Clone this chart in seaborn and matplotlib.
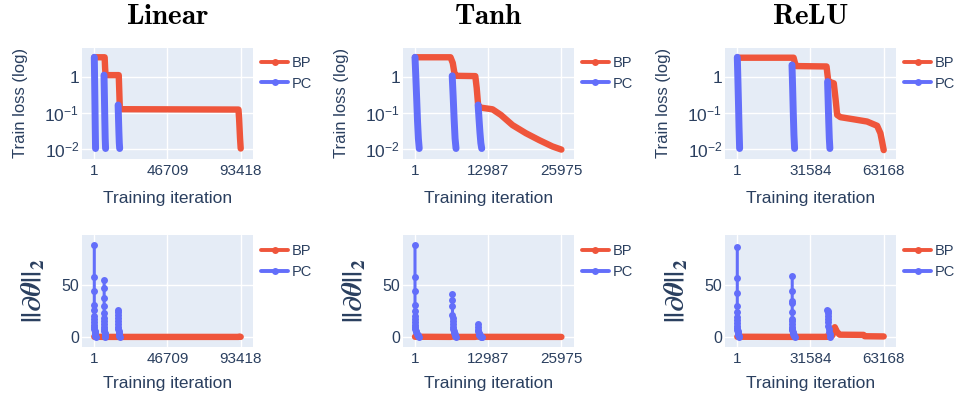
import numpy as np
import pandas as pd
import matplotlib
matplotlib.use("Agg")
import matplotlib.pyplot as plt
import seaborn as sns
from matplotlib.lines import Line2D
from matplotlib.ticker import NullLocator, FixedLocator, FixedFormatter

# ------------------------------------------------------------------ data
activations = ["Linear", "Tanh", "ReLU"]
series_names = ["BP", "PC"]
xtick_values = [[1, 46709, 93418], [1, 12987, 25975], [1, 31584, 63168]]
loss_ticks = [0.01, 0.1, 1]
loss_tick_labels = ["$10^{-2}$", "$10^{-1}$", "1"]
grad_ticks = [0, 50]
grad_tick_labels = ["0", "50"]

# ---- Linear
lin_bp_loss_x = [1, 6600, 6900, 7200, 15600, 15950, 16300, 92000, 92400, 93000, 93418]
lin_bp_loss_y = [3.6, 3.6, 1.8, 1.15, 1.15, 0.4, 0.13, 0.127, 0.07, 0.02, 0.0105]
lin_pc_loss_x = [[1, 200, 400, 600, 800],
                 [6200, 6450, 6700, 6950, 7200],
                 [15200, 15450, 15700, 15950, 16200]]
lin_pc_loss_y = [[3.6, 0.9, 0.2, 0.04, 0.0105],
                 [1.15, 0.3, 0.07, 0.02, 0.0105],
                 [0.17, 0.07, 0.03, 0.015, 0.0105]]
lin_bp_grad_x = [1, 6600, 6900, 7200, 15600, 15950, 16300, 92000, 92700, 93418]
lin_bp_grad_y = [0.2, 0.05, 0.6, 0.05, 0.05, 0.5, 0.05, 0.05, 0.4, 0.1]
lin_pc_grad_x = [[1, 2, 3, 4, 5, 6, 8, 12, 20, 40, 80, 150, 250, 350, 450, 600, 800],
                 [6300, 6301, 6302, 6303, 6304, 6306, 6310, 6320, 6350, 6400, 6500, 6650,
                  6800, 6950, 7100],
                 [15300, 15301, 15303, 15306, 15310, 15320, 15350, 15400, 15500, 15650,
                  15800, 15950, 16100]]
lin_pc_grad_y = [[88.7, 58.3, 43.9, 31.1, 25.6, 19.9, 17, 14.5, 12, 10, 8, 6, 4.5, 3, 2, 1, 0.1],
                 [55.1, 47, 37.5, 29.5, 23, 18, 15, 12.5, 10, 8, 6, 4, 2.5, 1.2, 0.1],
                 [26.3, 24, 21, 18, 15, 12.5, 10, 8, 6, 4, 2.5, 1.2, 0.1]]

# ---- Tanh
tanh_bp_loss_x = [1, 6300, 6700, 7000, 7300, 10700, 10950, 11200, 11500, 13750, 15240,
                  17300, 19670, 22030, 24380, 25975]
tanh_bp_loss_y = [3.6, 3.6, 2.5, 1.3, 1.1, 1.08, 0.5, 0.17, 0.145, 0.129, 0.09,
                  0.047, 0.028, 0.018, 0.012, 0.0098]
tanh_pc_loss_x = [[1, 150, 300, 450, 600, 750],
                  [6600, 6770, 6940, 7110, 7280],
                  [11200, 11360, 11520, 11680, 11840]]
tanh_pc_loss_y = [[3.6, 1.0, 0.25, 0.06, 0.02, 0.0105],
                  [1.1, 0.3, 0.07, 0.02, 0.0105],
                  [0.17, 0.07, 0.03, 0.015, 0.0105]]
tanh_bp_grad_x = [1, 6300, 6800, 7300, 10700, 11000, 11500, 25975]
tanh_bp_grad_y = [0.2, 0.05, 0.5, 0.05, 0.05, 0.6, 0.1, 0.05]
tanh_pc_grad_x = [[1, 2, 3, 4, 5, 6, 8, 12, 20, 40, 80, 150, 250, 350, 450, 600, 750],
                  [6650, 6651, 6652, 6653, 6655, 6660, 6670, 6700, 6750, 6850, 6950, 7050,
                   7150, 7250],
                  [11250, 11252, 11255, 11260, 11280, 11320, 11400, 11500, 11600, 11700, 11800]]
tanh_pc_grad_y = [[88.7, 58.3, 43.9, 31.1, 24.7, 19.9, 17, 14.5, 12, 10, 8, 6, 4.5, 3, 2, 1, 0.1],
                  [41.7, 35.9, 30.1, 21.5, 18, 15, 12.5, 10, 8, 6, 4, 2.5, 1.2, 0.1],
                  [12.8, 10, 7, 5.5, 4, 3, 2.2, 1.5, 0.9, 0.4, 0.1]]

# ---- ReLU
relu_bp_loss_x = [1, 24300, 24800, 25400, 38500, 38900, 39300, 40500, 41630, 42400, 43090,
                  44510, 50250, 56000, 60330, 61750, 62500, 63168]
relu_bp_loss_y = [3.5, 3.5, 2.6, 2.05, 2.0, 1.2, 0.76, 0.72, 0.68, 0.25, 0.09,
                  0.078, 0.068, 0.059, 0.045, 0.028, 0.016, 0.0095]
relu_pc_loss_x = [[1, 250, 500, 750, 1000],
                  [23600, 23880, 24160, 24440, 24720],
                  [38950, 39200, 39450, 39700, 39950]]
relu_pc_loss_y = [[3.6, 0.9, 0.2, 0.04, 0.0105],
                  [2.2, 0.5, 0.1, 0.025, 0.0105],
                  [0.76, 0.22, 0.06, 0.02, 0.0105]]
relu_bp_grad_x = [1, 24300, 24800, 25400, 38500, 39000, 39500, 41000, 42060, 43000, 44200,
                  54500, 55000, 63168]
relu_bp_grad_y = [0.2, 0.05, 0.6, 0.1, 0.1, 0.8, 0.5, 1.5, 9.4, 5, 2.2, 2.0, 0.7, 0.5]
relu_pc_grad_x = [[1, 2, 3, 4, 5, 6, 8, 12, 20, 40, 80, 150, 250, 350, 450, 600, 800],
                  [23700, 23701, 23702, 23703, 23704, 23705, 23707, 23712, 23720, 23740,
                   23800, 23900, 24000, 24150, 24300, 24500, 24700],
                  [38900, 38920, 38950, 39000, 39100, 39200, 39350, 39500, 39650, 39800, 39920]]
relu_pc_grad_y = [[86.6, 56.9, 42.2, 30.3, 24, 18.8, 16, 13.5, 11, 9, 7, 5.5, 4, 3, 2, 1, 0.1],
                  [59, 44.4, 34.4, 32.5, 24, 17.8, 15, 12.5, 10, 8, 6.5, 5, 3.5, 2.5, 1.5, 0.7, 0.1],
                  [26.5, 25, 23, 20, 17, 14, 11, 8, 5, 2.5, 0.1]]

panels = [
    (lin_bp_loss_x, lin_bp_loss_y, lin_pc_loss_x, lin_pc_loss_y,
     lin_bp_grad_x, lin_bp_grad_y, lin_pc_grad_x, lin_pc_grad_y),
    (tanh_bp_loss_x, tanh_bp_loss_y, tanh_pc_loss_x, tanh_pc_loss_y,
     tanh_bp_grad_x, tanh_bp_grad_y, tanh_pc_grad_x, tanh_pc_grad_y),
    (relu_bp_loss_x, relu_bp_loss_y, relu_pc_loss_x, relu_pc_loss_y,
     relu_bp_grad_x, relu_bp_grad_y, relu_pc_grad_x, relu_pc_grad_y),
]

# ------------------------------------------------------------------ style
BP_C = "#EF553B"
PC_C = "#636EFA"
TXT = "#2a3f5f"
BG = "#E5ECF6"

sns.set_theme(style="darkgrid", rc={"axes.facecolor": BG, "grid.color": "white"})
plt.rcParams["font.family"] = ["Liberation Sans", "DejaVu Sans"]
plt.rcParams["mathtext.fontset"] = "custom"
plt.rcParams["mathtext.rm"] = "Liberation Sans"
plt.rcParams["mathtext.it"] = "Liberation Sans:italic"
plt.rcParams["mathtext.bf"] = "Liberation Sans:bold"
plt.rcParams["axes.axisbelow"] = True

fig = plt.figure(figsize=(9.55, 3.93), dpi=100)
W, H = 955.0, 393.0
col_left = [82.0, 402.7, 725.0]
ax_w = 171.0
row_top = [48.0, 235.0]
row_h = [110.5, 111.7]

THICK = 4.6   # dense marker band
THIN = 2.2


def seg_frame(xs_list, ys_list):
    rows = []
    for k, (xs, ys) in enumerate(zip(xs_list, ys_list)):
        for xv, yv in zip(xs, ys):
            rows.append((xv, yv, k))
    return pd.DataFrame(rows, columns=["x", "y", "phase"])


def legend_for(ax, ytop):
    handles = [Line2D([], [], color=BP_C, lw=2.8, marker="o", ms=5, mew=0),
               Line2D([], [], color=PC_C, lw=2.8, marker="o", ms=5, mew=0)]
    ax.legend(handles, series_names, loc="upper left", bbox_to_anchor=(1.047, ytop),
              frameon=False, borderpad=0, borderaxespad=0, handlelength=1.87,
              handletextpad=0.25, labelspacing=0.45, fontsize=10.5, labelcolor=TXT)


for c in range(3):
    (bpx, bpy, pcx, pcy, bgx, bgy, pgx, pgy) = panels[c]
    xmin, xmax = xtick_values[c][0], xtick_values[c][-1]
    span = xmax - xmin
    xlim = (xmin - 0.084 * span, xmax + 0.084 * span)

    # ---------------- loss row
    ax = fig.add_axes([col_left[c] / W, 1 - (row_top[0] + row_h[0]) / H, ax_w / W, row_h[0] / H])
    ax.set_yscale("log")
    sns.lineplot(x=bpx, y=bpy, ax=ax, color=BP_C, lw=THICK, sort=False, estimator=None,
                 legend=False, solid_capstyle="round", solid_joinstyle="round")
    dfp = seg_frame(pcx, pcy)
    sns.lineplot(data=dfp, x="x", y="y", units="phase", estimator=None, ax=ax, color=PC_C,
                 lw=THICK + 0.4, sort=False, legend=False, solid_capstyle="round",
                 solid_joinstyle="round")
    ax.set_ylim(10 ** -2.256, 10 ** 0.814)
    ax.yaxis.set_major_locator(FixedLocator(loss_ticks))
    ax.yaxis.set_major_formatter(FixedFormatter(loss_tick_labels))
    ax.yaxis.set_minor_locator(NullLocator())
    ax.set_ylabel("Train loss (log)", fontsize=12, color=TXT)
    ax.yaxis.set_label_coords(-0.316, 0.5)
    ax.set_title(r"$\mathbf{" + activations[c] + "}$", fontsize=21, pad=17,
                 math_fontfamily="cm", color="black")
    legend_for(ax, 0.928)
    ax.tick_params(axis="y", labelsize=12.5)
    axes_pair = [ax]

    # ---------------- grad row
    ax2 = fig.add_axes([col_left[c] / W, 1 - (row_top[1] + row_h[1]) / H, ax_w / W, row_h[1] / H])
    sns.lineplot(x=bgx, y=bgy, ax=ax2, color=BP_C, lw=THICK, sort=False, estimator=None,
                 legend=False, solid_capstyle="round", solid_joinstyle="round")
    dfg = seg_frame(pgx, pgy)
    sns.lineplot(data=dfg, x="x", y="y", units="phase", estimator=None, ax=ax2, color=PC_C,
                 lw=THIN, marker="o", markersize=5, markeredgewidth=0, sort=False,
                 legend=False)
    ax2.set_ylim(-9.4, 98.4)
    ax2.yaxis.set_major_locator(FixedLocator(grad_ticks))
    ax2.yaxis.set_major_formatter(FixedFormatter(grad_tick_labels))
    ax2.set_ylabel(r"$\mathbf{||}\mathbfit{\partial\theta}\mathbf{||}_{\mathbf{2}}$",
                   fontsize=19.5, color=TXT, math_fontfamily="stix")
    ax2.yaxis.set_label_coords(-0.2, 0.5)
    legend_for(ax2, 0.917)
    ax2.tick_params(axis="y", labelsize=11.5)
    axes_pair.append(ax2)

    for a, xl_y in zip(axes_pair, [-0.295, -0.262]):
        a.set_xlim(*xlim)
        a.set_xticks(xtick_values[c])
        a.set_xticklabels([str(v) for v in xtick_values[c]])
        a.set_xlabel("Training iteration", fontsize=12.5, color=TXT)
        a.xaxis.set_label_coords(0.5, xl_y)
        a.tick_params(axis="both", length=0, labelcolor=TXT)
        a.tick_params(axis="x", pad=4, labelsize=11)
        a.tick_params(axis="y", pad=2)
        a.grid(True, color="white", lw=1.0)
        for s in a.spines.values():
            s.set_visible(False)

fig.savefig("out.png", dpi=100)
